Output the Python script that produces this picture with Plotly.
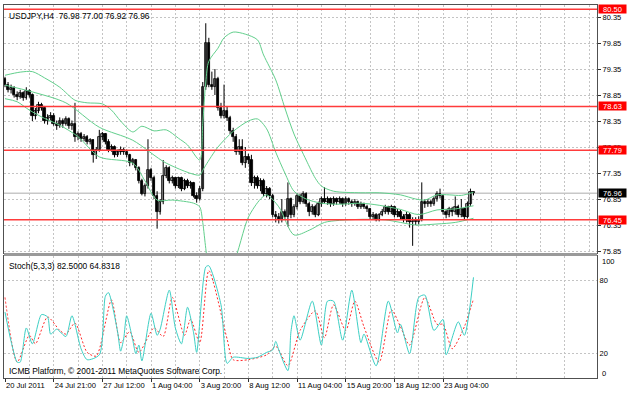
import plotly.graph_objects as go

# ---------------- data ----------------
bars = list(range(155))
opens = [79.15,79.05,78.95,78.98,78.85,78.82,78.88,78.80,78.92,78.85,
78.45,78.55,78.65,78.60,78.35,78.40,78.45,78.30,78.25,78.35,
78.30,78.38,78.25,78.30,78.05,78.10,78.00,78.05,77.95,77.98,
77.70,77.80,78.05,78.10,77.95,77.80,77.85,77.70,77.75,77.80,
77.75,77.70,77.55,77.60,77.45,77.20,76.95,77.10,77.40,77.25,
76.90,76.60,76.80,77.30,77.45,77.20,77.25,77.10,77.25,77.05,
77.20,77.10,77.15,76.90,76.85,77.05,79.00,79.85,79.05,79.00,
79.15,78.60,78.45,78.55,78.40,78.15,78.05,77.75,77.85,77.55,
77.65,77.60,77.15,77.25,77.10,77.20,76.95,77.05,76.90,76.55,
76.50,76.45,76.60,76.50,76.85,76.55,76.70,76.90,76.80,76.95,
76.75,76.60,76.70,76.55,76.75,76.85,76.80,76.85,76.75,76.85,
76.80,76.85,76.75,76.85,76.80,76.75,76.80,76.70,76.75,76.70,
76.65,76.50,76.55,76.45,76.55,76.60,76.70,76.60,76.70,76.55,
76.60,76.50,76.45,76.55,76.40,76.45,76.40,76.45,76.80,76.75,
76.80,76.75,76.85,76.95,76.90,76.60,76.55,76.65,76.60,76.70,
76.55,76.65,76.50,76.75,76.98]
highs = [79.20,79.10,79.05,79.02,78.92,78.95,78.92,79.00,78.96,78.88,
78.60,78.72,78.70,78.64,78.48,78.52,78.50,78.36,78.42,78.40,
78.44,78.42,78.36,78.70,78.15,78.14,78.10,78.08,78.02,78.00,
77.85,78.18,78.14,78.12,78.00,77.90,77.88,77.80,77.86,77.84,
77.80,77.72,77.64,77.62,77.48,77.24,77.15,78.00,77.45,77.30,
77.00,76.85,77.60,77.50,77.48,77.30,77.28,77.28,77.28,77.24,
77.24,77.20,77.18,76.98,77.10,79.10,80.23,79.95,79.30,79.35,
79.20,78.70,79.05,78.62,78.45,78.22,78.10,78.00,78.00,77.85,
77.72,77.70,77.30,77.30,77.25,77.24,77.10,77.08,76.95,76.62,
76.58,76.85,76.65,77.17,76.88,76.75,76.96,76.95,77.00,76.98,
76.80,76.75,76.74,76.80,76.90,77.08,76.90,76.88,76.90,76.88,
76.90,76.88,76.90,76.88,76.84,76.85,76.82,76.80,76.78,76.74,
76.68,76.60,76.58,76.58,76.66,76.74,76.72,76.74,76.72,76.66,
76.64,76.56,76.60,76.58,76.50,76.50,76.52,77.17,76.84,76.85,
76.84,76.90,77.00,77.05,76.92,76.66,76.70,76.70,76.90,76.74,
76.85,76.68,76.80,77.05,77.00]
lows = [79.00,78.90,78.88,78.80,78.75,78.78,78.74,78.76,78.80,78.35,
78.38,78.50,78.55,78.30,78.28,78.36,78.26,78.18,78.22,78.22,
78.26,78.20,78.18,77.95,77.98,77.95,77.96,77.90,77.90,77.55,
77.62,77.76,77.98,77.90,77.75,77.76,77.65,77.66,77.70,77.70,
77.65,77.48,77.50,77.40,77.15,76.92,76.90,77.05,77.20,76.85,
76.28,76.55,76.75,77.25,77.15,77.15,77.05,77.06,77.00,77.02,
77.06,77.05,76.88,76.78,76.82,77.00,78.95,79.00,78.95,78.85,
78.55,78.40,78.40,78.35,78.10,77.95,77.70,77.70,77.50,77.45,
77.52,77.10,77.05,77.05,77.00,76.90,76.88,76.85,76.50,76.40,
76.38,76.40,76.45,76.32,76.48,76.50,76.65,76.75,76.76,76.70,
76.52,76.55,76.50,76.52,76.70,76.76,76.74,76.70,76.72,76.74,
76.76,76.70,76.72,76.74,76.70,76.72,76.66,76.66,76.66,76.60,
76.45,76.46,76.42,76.42,76.52,76.56,76.55,76.56,76.50,76.50,
76.46,76.40,76.40,76.30,75.95,76.35,76.36,76.42,76.68,76.70,
76.70,76.72,76.80,76.86,76.55,76.48,76.50,76.52,76.55,76.50,
76.50,76.45,76.48,76.72,76.92]
closes = [79.05,78.95,78.98,78.85,78.82,78.88,78.80,78.92,78.85,78.45,
78.55,78.65,78.60,78.35,78.40,78.45,78.30,78.25,78.35,78.30,
78.38,78.25,78.30,78.05,78.10,78.00,78.05,77.95,77.98,77.70,
77.80,78.05,78.10,77.95,77.80,77.85,77.70,77.75,77.80,77.75,
77.70,77.55,77.60,77.45,77.20,76.95,77.10,77.40,77.25,76.90,
76.60,76.80,77.30,77.45,77.20,77.25,77.10,77.25,77.05,77.20,
77.10,77.15,76.90,76.85,77.05,79.00,79.85,79.05,79.00,79.15,
78.60,78.45,78.55,78.40,78.15,78.05,77.75,77.85,77.55,77.65,
77.60,77.15,77.25,77.10,77.20,76.95,77.05,76.90,76.55,76.50,
76.45,76.60,76.50,76.85,76.55,76.70,76.90,76.80,76.95,76.75,
76.60,76.70,76.55,76.75,76.85,76.80,76.85,76.75,76.85,76.80,
76.85,76.75,76.85,76.80,76.75,76.80,76.70,76.75,76.70,76.65,
76.50,76.55,76.45,76.55,76.60,76.70,76.60,76.70,76.55,76.60,
76.50,76.45,76.55,76.40,76.45,76.40,76.45,76.80,76.75,76.80,
76.75,76.85,76.95,76.90,76.60,76.55,76.65,76.60,76.70,76.55,
76.65,76.50,76.75,76.98,76.96]

# Bollinger bands (at selected bars)
ub_idx = [0,5,9,13,18,23,27,32,35,38,42,45,49,53,57,60,64,65,66,67,70,72,75,79,83,85,89,92,95,99,102,104,108,117,123,130,135,138,142,146,150,154]
ub_val = [79.23,79.29,79.30,79.18,79.00,78.75,78.70,78.68,78.56,78.35,78.14,78.25,78.16,78.18,78.02,77.89,77.60,78.30,79.10,79.50,79.75,79.95,80.06,80.02,79.91,79.62,79.14,78.60,78.10,77.60,77.25,77.10,77.00,76.97,76.97,76.93,76.85,76.83,76.93,76.93,76.92,76.98]
mb_idx = [0,9,20,31,42,53,64,65,66,70,75,80,83,86,89,92,95,99,104,110,117,123,130,136,142,148,154]
mb_val = [79.04,78.91,78.70,78.23,77.98,77.54,77.31,77.40,77.50,77.85,78.15,78.35,78.39,78.20,77.75,77.35,77.00,76.85,76.77,76.75,76.77,76.73,76.65,76.55,76.64,76.66,76.72]
lb_idx = [0,4,8,13,18,24,31,42,46,50,55,62,64,65,66,67,70,75,80,84,86,90,95,100,105,110,118,125,130,135,142,148,154]
lb_val = [78.78,78.72,78.56,78.40,78.27,78.05,77.66,77.54,77.20,76.83,76.83,76.77,76.70,76.40,75.90,75.50,75.20,75.60,76.50,76.85,76.93,76.70,76.16,76.25,76.40,76.44,76.46,76.45,76.40,76.35,76.37,76.40,76.48]

# Stochastic (5,3,3)
k_idx = [0,2,4,5,7,9,12,14,15,17,20,22,25,27,31,33,34,37,38,39,40,42,43,44,45,48,50,51,54,56,58,60,62,63,66,67,71,73,75,80,83,86,88,89,90,93,94,95,97,101,104,106,108,111,114,117,118,122,126,129,130,133,136,138,141,144,145,149,151,154]
k_val = [54,30,13,13,41,28,52,50,36,40,34,51,24,15,19,67,70,38,22,32,51,31,20,27,14,53,35,40,72,41,28,58,37,21,91,92,60,12,17,16,17,21,23,30,23,6,38,51,31,63,27,63,63,31,72,29,36,10,63,37,44,20,66,68,39,48,19,46,35,82.5]
d_idx = [0,4,8,10,14,18,20,23,27,30,35,38,41,44,49,52,55,59,61,64,67,73,75,80,86,89,93,97,102,105,108,112,115,118,123,127,130,133,138,142,144,147,151,154]
d_val = [66,13,35,28,50,39,36,45,21,18,64,29,38,21,41,34,66,35,48,29,88,32,15,15,19,26,10,39,55,33,60,39,63,42,13,56,42,27,66,44,44,24,42,64.83]

# Levels / labels
red_levels = [80.50, 78.63, 77.79, 76.45]
bid_price = 76.96
price_ticks = [75.85, 76.35, 76.85, 77.35, 77.85, 78.35, 78.85, 79.35, 79.85, 80.35]
date_ticks = [0, 16, 32, 48, 64, 80, 96, 112, 128, 144]
date_labels = ["20 Jul 2011", "24 Jul 21:00", "27 Jul 12:00", "1 Aug 04:00", "3 Aug 20:00",
               "8 Aug 12:00", "11 Aug 04:00", "15 Aug 20:00", "18 Aug 12:00", "23 Aug 04:00"]
title_text = "USDJPY,H4\u00a0\u00a076.98 77.00 76.92 76.96"
stoch_text = "Stoch(5,3,3) 82.5000 64.8318"
copyright_text = "ICMB Platform, \u00a9 2001-2011 MetaQuotes Software Corp."

# ---------------- figure ----------------
FONT = "Liberation Sans, Arial, sans-serif"
FS = 7.5
FS_ANN = 8.4
FS_X = 7.6
XR = [-0.33, 194.6]
GRID = "#c4c4c4"
BAND = "#62cf8c"

fig = go.Figure()

# wicks
wx, wy = [], []
for i, h, l in zip(bars, highs, lows):
    wx += [i, i, None]
    wy += [l, h, None]
fig.add_trace(go.Scatter(x=wx, y=wy, mode="lines", line=dict(color="#000000", width=1),
                         showlegend=False, hoverinfo="skip", xaxis="x", yaxis="y"))

# bodies
for up in (True, False):
    bx, bbase, bh = [], [], []
    for i, o, c in zip(bars, opens, closes):
        if (c >= o) == up:
            bx.append(i)
            bbase.append(min(o, c))
            bh.append(max(abs(c - o), 0.012))
    fig.add_trace(go.Bar(x=bx, y=bh, base=bbase, width=0.78,
                         marker=dict(color="#b4b4b4" if up else "#000000",
                                     line=dict(color="#000000", width=0.8)),
                         showlegend=False, hoverinfo="skip", xaxis="x", yaxis="y"))

for xi, yv in ((ub_idx, ub_val), (mb_idx, mb_val), (lb_idx, lb_val)):
    fig.add_trace(go.Scatter(x=xi, y=yv, mode="lines",
                             line=dict(color=BAND, width=1, shape="spline", smoothing=0.8),
                             showlegend=False, hoverinfo="skip", xaxis="x", yaxis="y"))

fig.add_trace(go.Scatter(x=d_idx, y=d_val, mode="lines",
                         line=dict(color="#ff2a2a", width=1, dash="2px,2px", shape="spline", smoothing=0.7),
                         showlegend=False, hoverinfo="skip", xaxis="x2", yaxis="y2"))
fig.add_trace(go.Scatter(x=k_idx, y=k_val, mode="lines",
                         line=dict(color="#3ccfc4", width=1, shape="spline", smoothing=0.7),
                         showlegend=False, hoverinfo="skip", xaxis="x2", yaxis="y2"))

shapes = []
shapes.append(dict(type="line", xref="x domain", yref="y", x0=0, x1=1, y0=bid_price, y1=bid_price,
                   line=dict(color="#c8c8c8", width=1.5), layer="below"))
for lv in red_levels:
    shapes.append(dict(type="line", xref="x domain", yref="y", x0=0, x1=1, y0=lv, y1=lv,
                       line=dict(color="#ff3b3b", width=1.5), layer="above"))
# panel separator
shapes.append(dict(type="rect", xref="paper", yref="paper", x0=0, x1=1, y0=0.3271, y1=0.3351,
                   fillcolor="#9a9a9a", line=dict(width=0), layer="above"))
fig.update_layout(shapes=shapes)

ann = []
ann.append(dict(text=title_text, xref="paper", yref="paper", x=0, y=1, xanchor="left", yanchor="top",
                xshift=3, yshift=-4, showarrow=False, font=dict(family=FONT, size=FS_ANN, color="black")))
ann.append(dict(text=stoch_text, xref="paper", yref="paper", x=0, y=0.3271, xanchor="left", yanchor="top",
                xshift=3, yshift=-3, showarrow=False, font=dict(family=FONT, size=FS_ANN, color="black")))
ann.append(dict(text=copyright_text, xref="paper", yref="paper", x=0, y=0, xanchor="left", yanchor="bottom",
                xshift=3, yshift=0, showarrow=False, font=dict(family=FONT, size=FS_ANN, color="black")))
for lv in red_levels:
    ann.append(dict(text=f"{lv:.2f}", xref="paper", yref="y", x=1, y=lv, xanchor="left", yanchor="middle",
                    xshift=1, showarrow=False, bgcolor="#ff0000", width=27, height=8, borderpad=0,
                    font=dict(family=FONT, size=FS, color="white")))
ann.append(dict(text=f"{bid_price:.2f}", xref="paper", yref="y", x=1, y=bid_price, xanchor="left",
                yanchor="middle", xshift=1, showarrow=False, bgcolor="#000000", width=27, height=8,
                borderpad=0, font=dict(family=FONT, size=FS, color="white")))
for v, txt, ys in ((100, "100", -6), (0, "0", 5)):
    ann.append(dict(text=txt, xref="paper", yref="y2", x=1, y=v, xanchor="left", yanchor="middle",
                    xshift=3, yshift=ys, showarrow=False, font=dict(family=FONT, size=FS, color="black")))
fig.update_layout(annotations=ann)

axis_line = dict(showline=True, linecolor="#505050", linewidth=1, mirror=True, zeroline=False,
                 automargin=False)

fig.update_layout(
    width=627, height=393, margin=dict(l=4, r=30, t=5, b=15),
    paper_bgcolor="white", plot_bgcolor="white", showlegend=False,
    barmode="overlay", bargap=0,
    font=dict(family=FONT, size=FS, color="black"),
    xaxis=dict(domain=[0, 1], range=XR, anchor="y", showticklabels=False, ticks="",
               tickvals=list(range(0, 195, 8)), showgrid=True, gridcolor=GRID, griddash="2px,2px",
               gridwidth=1, **axis_line),
    yaxis=dict(domain=[0.3351, 1], range=[75.812, 80.581], anchor="x", side="right",
               tickvals=price_ticks, ticktext=[f"{p:.2f}" for p in price_ticks],
               ticks="outside", ticklen=3, tickcolor="#303030", showgrid=True, gridcolor=GRID,
               griddash="2px,2px", tickfont=dict(family=FONT, size=FS), **axis_line),
    xaxis2=dict(domain=[0, 1], range=XR, anchor="y2", tickvals=date_ticks, ticktext=date_labels,
                tickangle=0, ticks="outside", ticklen=3, tickcolor="#303030",
                ticklabelposition="outside right",
                showgrid=True, gridcolor=GRID, griddash="2px,2px",
                minor=dict(tickvals=list(range(8, 195, 16)), showgrid=True, gridcolor=GRID,
                           griddash="2px,2px", ticks=""),
                tickfont=dict(family=FONT, size=FS_X), **axis_line),
    yaxis2=dict(domain=[0, 0.3271], range=[0, 100], anchor="x2", side="right",
                tickvals=[20, 80], ticktext=["20", "80"], ticks="", showgrid=True, gridcolor=GRID,
                griddash="2px,2px", tickfont=dict(family=FONT, size=FS), **axis_line),
)

fig.write_html("out.html")
